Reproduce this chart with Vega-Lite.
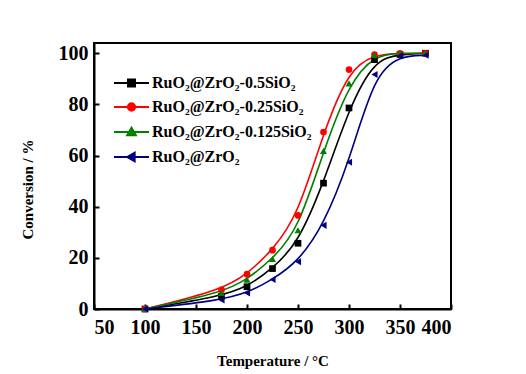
{
  "$schema": "https://vega.github.io/schema/vega-lite/v6.json",
  "autosize": {"type": "none"},
  "padding": {"left": 94, "top": 43, "right": 75, "bottom": 65},
  "width": 357,
  "height": 266,
  "background": "white",
  "config": {
    "view": {"stroke": "black", "strokeWidth": 2},
    "font": "Liberation Serif",
    "axis": {
      "grid": false,
      "domainColor": "black",
      "domainWidth": 2,
      "tickColor": "black",
      "tickWidth": 2,
      "tickSize": -5,
      "labelFont": "Liberation Serif",
      "labelFontWeight": "bold",
      "labelFontSize": 20,
      "labelColor": "black",
      "titleFont": "Liberation Serif",
      "titleFontWeight": "bold",
      "titleFontSize": 15,
      "titleColor": "black"
    }
  },
  "data": {
    "values": [
      {"T": 100, "conv": 0, "s": "RuO₂@ZrO₂-0.5SiO₂"},
      {"T": 175, "conv": 5, "s": "RuO₂@ZrO₂-0.5SiO₂"},
      {"T": 200, "conv": 8.7, "s": "RuO₂@ZrO₂-0.5SiO₂"},
      {"T": 225, "conv": 15.8, "s": "RuO₂@ZrO₂-0.5SiO₂"},
      {"T": 250, "conv": 25.7, "s": "RuO₂@ZrO₂-0.5SiO₂"},
      {"T": 275, "conv": 49.2, "s": "RuO₂@ZrO₂-0.5SiO₂"},
      {"T": 300, "conv": 78.6, "s": "RuO₂@ZrO₂-0.5SiO₂"},
      {"T": 325, "conv": 97.5, "s": "RuO₂@ZrO₂-0.5SiO₂"},
      {"T": 350, "conv": 99.5, "s": "RuO₂@ZrO₂-0.5SiO₂"},
      {"T": 375, "conv": 100, "s": "RuO₂@ZrO₂-0.5SiO₂"},
      {"T": 100, "conv": 0, "s": "RuO₂@ZrO₂-0.25SiO₂"},
      {"T": 175, "conv": 7.5, "s": "RuO₂@ZrO₂-0.25SiO₂"},
      {"T": 200, "conv": 13.6, "s": "RuO₂@ZrO₂-0.25SiO₂"},
      {"T": 225, "conv": 23, "s": "RuO₂@ZrO₂-0.25SiO₂"},
      {"T": 250, "conv": 36.6, "s": "RuO₂@ZrO₂-0.25SiO₂"},
      {"T": 275, "conv": 69.2, "s": "RuO₂@ZrO₂-0.25SiO₂"},
      {"T": 300, "conv": 93.6, "s": "RuO₂@ZrO₂-0.25SiO₂"},
      {"T": 325, "conv": 99.5, "s": "RuO₂@ZrO₂-0.25SiO₂"},
      {"T": 350, "conv": 100, "s": "RuO₂@ZrO₂-0.25SiO₂"},
      {"T": 375, "conv": 100, "s": "RuO₂@ZrO₂-0.25SiO₂"},
      {"T": 100, "conv": 0, "s": "RuO₂@ZrO₂-0.125SiO₂"},
      {"T": 175, "conv": 6.3, "s": "RuO₂@ZrO₂-0.125SiO₂"},
      {"T": 200, "conv": 11.5, "s": "RuO₂@ZrO₂-0.125SiO₂"},
      {"T": 225, "conv": 19.6, "s": "RuO₂@ZrO₂-0.125SiO₂"},
      {"T": 250, "conv": 30.8, "s": "RuO₂@ZrO₂-0.125SiO₂"},
      {"T": 275, "conv": 61.8, "s": "RuO₂@ZrO₂-0.125SiO₂"},
      {"T": 300, "conv": 88.2, "s": "RuO₂@ZrO₂-0.125SiO₂"},
      {"T": 325, "conv": 99.3, "s": "RuO₂@ZrO₂-0.125SiO₂"},
      {"T": 350, "conv": 100, "s": "RuO₂@ZrO₂-0.125SiO₂"},
      {"T": 375, "conv": 100, "s": "RuO₂@ZrO₂-0.125SiO₂"},
      {"T": 100, "conv": 0, "s": "RuO₂@ZrO₂"},
      {"T": 175, "conv": 3.5, "s": "RuO₂@ZrO₂"},
      {"T": 200, "conv": 6.3, "s": "RuO₂@ZrO₂"},
      {"T": 225, "conv": 11.5, "s": "RuO₂@ZrO₂"},
      {"T": 250, "conv": 18.5, "s": "RuO₂@ZrO₂"},
      {"T": 275, "conv": 32.7, "s": "RuO₂@ZrO₂"},
      {"T": 300, "conv": 57.4, "s": "RuO₂@ZrO₂"},
      {"T": 325, "conv": 91.7, "s": "RuO₂@ZrO₂"},
      {"T": 350, "conv": 99, "s": "RuO₂@ZrO₂"},
      {"T": 375, "conv": 99.2, "s": "RuO₂@ZrO₂"}
    ]
  },
  "encoding": {
    "x": {
      "field": "T", "type": "quantitative",
      "scale": {"domain": [50, 400], "nice": false, "zero": false},
      "axis": {"values": [50, 100, 150, 200, 250, 300, 350, 400], "title": "Temperature / °C", "labelPadding": 13, "titleBaseline": "middle", "titleY": 51, "titleAnchor": "middle"}
    },
    "y": {
      "field": "conv", "type": "quantitative",
      "scale": {"domain": [0, 104], "nice": false},
      "axis": {"values": [0, 20, 40, 60, 80, 100], "title": "Conversion / %", "labelPadding": 11, "titleX": -67, "titleY": 146, "titleAlign": "center", "titleBaseline": "middle", "titleAngle": -90}
    },
    "color": {
      "field": "s", "type": "nominal",
      "scale": {
        "domain": ["RuO₂@ZrO₂-0.5SiO₂", "RuO₂@ZrO₂-0.25SiO₂", "RuO₂@ZrO₂-0.125SiO₂", "RuO₂@ZrO₂"],
        "range": ["#000000", "#ff0000", "#008000", "#000080"]
      },
      "legend": {
        "title": null,
        "orient": "none",
        "legendX": 40,
        "legendY": 32,
        "padding": 0,
        "symbolSize": 196,
        "symbolStrokeWidth": 2,
        "labelFont": "Liberation Serif",
        "labelFontWeight": "bold",
        "labelFontSize": 16,
        "labelColor": "black",
        "labelOffset": 2,
        "rowPadding": 8,
        "encode": {
          "symbols": {
            "update": {
              "shape": {"signal": "datum.value === 'RuO₂@ZrO₂-0.5SiO₂' ? 'M-4,0H1M-2,-0.5H-1V0.5H-2Z' : datum.value === 'RuO₂@ZrO₂-0.25SiO₂' ? 'M-4,0H1M-0.98,0A0.52,0.52,0,1,1,-2.02,0A0.52,0.52,0,1,1,-0.98,0Z' : datum.value === 'RuO₂@ZrO₂-0.125SiO₂' ? 'M-4,0H1M-1.5,-0.62L-0.88,0.45L-2.12,0.45Z' : 'M-4,0H1M-2.12,0L-1.05,-0.62L-1.05,0.62Z'"},
              "fill": {"signal": "datum.value === 'RuO₂@ZrO₂-0.5SiO₂' ? '#000000' : datum.value === 'RuO₂@ZrO₂-0.25SiO₂' ? '#ff0000' : datum.value === 'RuO₂@ZrO₂-0.125SiO₂' ? '#008000' : '#000080'"},
              "stroke": {"signal": "datum.value === 'RuO₂@ZrO₂-0.5SiO₂' ? '#000000' : datum.value === 'RuO₂@ZrO₂-0.25SiO₂' ? '#ff0000' : datum.value === 'RuO₂@ZrO₂-0.125SiO₂' ? '#008000' : '#000080'"},
              "strokeWidth": {"value": 2},
              "opacity": {"value": 1}
            }
          }
        }
      }
    }
  },
  "layer": [
    {
      "mark": {"type": "line", "interpolate": "basis", "strokeWidth": 1.6}
    },
    {
      "transform": [{"filter": "datum.s === 'RuO₂@ZrO₂-0.5SiO₂'"}],
      "mark": {"type": "point", "shape": "square", "filled": true, "size": 45, "opacity": 1}
    },
    {
      "transform": [{"filter": "datum.s === 'RuO₂@ZrO₂-0.25SiO₂'"}],
      "mark": {"type": "point", "shape": "circle", "filled": true, "size": 45, "opacity": 1}
    },
    {
      "transform": [{"filter": "datum.s === 'RuO₂@ZrO₂-0.125SiO₂'"}],
      "mark": {"type": "point", "shape": "triangle-up", "filled": true, "size": 50, "opacity": 1}
    },
    {
      "transform": [{"filter": "datum.s === 'RuO₂@ZrO₂'"}],
      "mark": {"type": "point", "shape": "triangle-left", "filled": true, "size": 50, "opacity": 1}
    }
  ]
}
